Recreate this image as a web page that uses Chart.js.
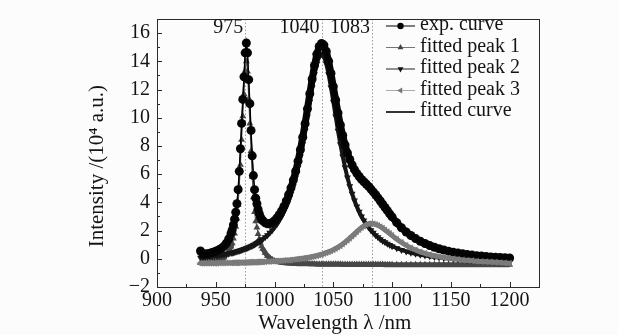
<!DOCTYPE html>
<html>
<head>
  <meta charset="utf-8">
  <title>Fitted emission spectrum</title>
  <script src="https://cdn.jsdelivr.net/npm/chart.js@4"></script>
  <style>
    body {
      margin: 0;
      background: #fcfcfc;
    }
    #wrap {
      width: 618px;
      height: 335px;
    }
  </style>
</head>
<body>
  <div id="wrap"><canvas id="spectrum" width="618" height="335"></canvas></div>

  <script>
    // wavelength grid (nm), denser around the 975 nm line
    const wavelength = [
      937, 939, 941, 943, 945, 947, 949, 951, 953, 955, 957, 959, 961, 963,
      964, 965, 966, 967, 968, 969, 970, 971, 972, 973, 974, 975, 976, 977, 978, 979,
      980, 981, 982, 983, 984, 985, 986, 987, 988, 989, 990,
      992, 994, 996, 998, 1000, 1002, 1004, 1006, 1008, 1010, 1012, 1014, 1016, 1018, 1020,
      1022, 1024, 1026, 1028, 1030, 1032, 1034, 1036, 1038, 1040, 1042, 1044, 1046, 1048, 1050,
      1052, 1054, 1056, 1058, 1060, 1062, 1064, 1066, 1068, 1070, 1072, 1074, 1076, 1078, 1080,
      1082, 1084, 1086, 1088, 1090, 1092, 1094, 1096, 1098, 1100,
      1104, 1108, 1112, 1116, 1120, 1124, 1128, 1132, 1136, 1140, 1144, 1148, 1152,
      1156, 1160, 1164, 1168, 1172, 1176, 1180, 1184, 1188, 1192, 1196, 1200
    ];

    // intensities in 10^4 a.u.
    const expCurve = [
      0.55, 0.36, 0.34, 0.36, 0.40, 0.45, 0.50, 0.57, 0.65, 0.75, 0.90, 1.10, 1.40, 1.80,
      2.05, 2.40, 2.80, 3.30, 3.90, 4.90, 6.20, 7.80, 9.60, 11.30, 12.90, 14.60, 15.30, 14.60, 12.70, 11.00,
      9.10, 7.30, 5.90, 4.90, 4.30, 3.90, 3.50, 3.20, 2.95, 2.80, 2.70,
      2.55, 2.48, 2.50, 2.58, 2.70, 2.90, 3.12, 3.40, 3.72, 4.10, 4.54, 5.03, 5.58, 6.21, 6.92,
      7.73, 8.62, 9.58, 10.63, 11.70, 12.75, 13.71, 14.50, 15.05, 15.26, 15.15, 14.70, 14.01, 13.15, 12.21,
      11.26, 10.34, 9.49, 8.74, 8.08, 7.51, 7.04, 6.65, 6.32, 6.06, 5.83, 5.63, 5.46, 5.30, 5.13,
      4.94, 4.74, 4.54, 4.32, 4.10, 3.87, 3.64, 3.41, 3.18, 2.97,
      2.56, 2.20, 1.90, 1.65, 1.43, 1.24, 1.08, 0.94, 0.82, 0.71, 0.62, 0.54, 0.47,
      0.41, 0.35, 0.30, 0.26, 0.22, 0.19, 0.16, 0.13, 0.11, 0.09, 0.07, 0.06
    ];

    const fittedPeak1 = [
      -0.30, -0.28, -0.27, -0.25, -0.23, -0.21, -0.18, -0.14, -0.09, -0.02, 0.09, 0.26, 0.52, 0.87,
      1.10, 1.43, 1.80, 2.28, 2.85, 3.83, 5.10, 6.67, 8.44, 10.11, 11.68, 13.34, 14.01, 13.27, 11.34, 9.60,
      7.65, 5.81, 4.37, 3.32, 2.67, 2.22, 1.76, 1.41, 1.10, 0.89, 0.72,
      0.43, 0.20, 0.05, -0.06, -0.15, -0.19, -0.23, -0.26, -0.28, -0.30, -0.31, -0.32, -0.33, -0.34, -0.35,
      -0.35, -0.36, -0.36, -0.36, -0.37, -0.37, -0.37, -0.38, -0.38, -0.38, -0.38, -0.38, -0.39, -0.39, -0.39,
      -0.39, -0.39, -0.39, -0.40, -0.40, -0.40, -0.40, -0.40, -0.40, -0.40, -0.40, -0.41, -0.41, -0.41, -0.41,
      -0.41, -0.41, -0.41, -0.41, -0.41, -0.41, -0.42, -0.42, -0.42, -0.42,
      -0.42, -0.42, -0.42, -0.42, -0.42, -0.42, -0.42, -0.42, -0.42, -0.42, -0.42, -0.42, -0.42,
      -0.42, -0.42, -0.42, -0.42, -0.42, -0.42, -0.42, -0.42, -0.42, -0.42, -0.42, -0.42
    ];

    const fittedPeak2 = [
      0.07, 0.08, 0.10, 0.12, 0.14, 0.17, 0.19, 0.22, 0.24, 0.27, 0.31, 0.34, 0.38, 0.41,
      0.43, 0.45, 0.48, 0.50, 0.52, 0.55, 0.57, 0.60, 0.63, 0.66, 0.69, 0.72, 0.75, 0.78, 0.82, 0.86,
      0.89, 0.93, 0.98, 1.02, 1.07, 1.12, 1.17, 1.22, 1.27, 1.33, 1.39,
      1.53, 1.67, 1.84, 2.02, 2.23, 2.45, 2.71, 3.00, 3.33, 3.71, 4.13, 4.61, 5.15, 5.77, 6.47,
      7.26, 8.12, 9.07, 10.09, 11.13, 12.15, 13.08, 13.83, 14.33, 14.50, 14.33, 13.83, 13.08, 12.15, 11.13,
      10.09, 9.07, 8.12, 7.26, 6.47, 5.77, 5.15, 4.61, 4.13, 3.71, 3.33, 3.00, 2.71, 2.45, 2.23,
      2.02, 1.84, 1.67, 1.53, 1.39, 1.27, 1.17, 1.07, 0.98, 0.89,
      0.75, 0.63, 0.52, 0.43, 0.36, 0.29, 0.23, 0.18, 0.13, 0.09, 0.06, 0.03, 0.00,
      -0.03, -0.05, -0.08, -0.10, -0.11, -0.13, -0.14, -0.16, -0.17, -0.18, -0.19, -0.20
    ];

    const fittedPeak3 = [
      -0.32, -0.32, -0.32, -0.32, -0.31, -0.31, -0.31, -0.31, -0.30, -0.30, -0.30, -0.29, -0.29, -0.29,
      -0.29, -0.28, -0.28, -0.28, -0.28, -0.28, -0.27, -0.27, -0.27, -0.27, -0.26, -0.26, -0.26, -0.26, -0.25, -0.25,
      -0.25, -0.25, -0.24, -0.24, -0.24, -0.23, -0.23, -0.23, -0.22, -0.22, -0.22,
      -0.21, -0.20, -0.19, -0.18, -0.17, -0.16, -0.15, -0.14, -0.12, -0.11, -0.10, -0.08, -0.06, -0.04, -0.02,
      0.00, 0.02, 0.05, 0.08, 0.11, 0.14, 0.18, 0.22, 0.27, 0.31, 0.37, 0.43, 0.49, 0.56, 0.64,
      0.73, 0.83, 0.93, 1.05, 1.18, 1.31, 1.46, 1.61, 1.76, 1.92, 2.07, 2.21, 2.33, 2.42, 2.48,
      2.50, 2.49, 2.44, 2.37, 2.28, 2.17, 2.05, 1.92, 1.79, 1.65,
      1.39, 1.16, 0.95, 0.77, 0.62, 0.49, 0.38, 0.29, 0.22, 0.15, 0.09, 0.04, 0.00,
      -0.04, -0.08, -0.11, -0.14, -0.17, -0.19, -0.21, -0.23, -0.25, -0.27, -0.29, -0.31
    ];

    // the fitted sum lies on the measured points
    const fittedCurve = expCurve;

    const xTicks = [900, 950, 1000, 1050, 1100, 1150, 1200];
    const xMinorTicks = [925, 975, 1025, 1075, 1125, 1175];
    const yTicks = [-2, 0, 2, 4, 6, 8, 10, 12, 14, 16];
    const yMinorTicks = [-1, 1, 3, 5, 7, 9, 11, 13, 15];

    const peakLines = [975, 1040, 1083];
    const peakLabels = ['975', '1040', '1083'];

    const legendLabels = ['exp. curve', 'fitted peak 1', 'fitted peak 2', 'fitted peak 3', 'fitted curve'];

    const SERIF = "'Liberation Serif', 'Times New Roman', serif";
    const INK = '#141414';

    // marker shapes for the hand-drawn legend (same geometry as chart.js)
    function marker(ctx, style, rot, r, x, y) {
      ctx.beginPath();
      if (style === 'circle') {
        ctx.arc(x, y, r, 0, Math.PI * 2);
      } else if (style === 'triangle') {
        let a = rot * Math.PI / 180;
        ctx.moveTo(x + Math.sin(a) * r, y - Math.cos(a) * r);
        for (let k = 0; k < 2; k++) {
          a += Math.PI * 2 / 3;
          ctx.lineTo(x + Math.sin(a) * r, y - Math.cos(a) * r);
        }
        ctx.closePath();
      }
      if (style) ctx.fill();
    }

    const legendStyle = [
      { line: '#000', mark: '#000', style: 'circle', rot: 0, r: 3.2, w: 1 },
      { line: '#777', mark: '#444', style: 'triangle', rot: 0, r: 3.4, w: 1 },
      { line: '#222', mark: '#111', style: 'triangle', rot: 180, r: 3.4, w: 1 },
      { line: '#aaa', mark: '#777', style: 'triangle', rot: 270, r: 3.4, w: 1 },
      { line: '#000', mark: null, style: null, rot: 0, r: 0, w: 1.6 }
    ];

    const decorations = {
      id: 'decorations',
      beforeDatasetsDraw(chart) {
        const { ctx, chartArea: a, scales: { x } } = chart;
        ctx.save();
        ctx.strokeStyle = '#9c9c9c';
        ctx.lineWidth = 1;
        ctx.setLineDash([1.5, 2]);
        peakLines.forEach(v => {
          const px = Math.round(x.getPixelForValue(v)) + 0.5;
          ctx.beginPath();
          ctx.moveTo(px, a.top);
          ctx.lineTo(px, a.bottom);
          ctx.stroke();
        });
        ctx.restore();
      },
      afterDraw(chart) {
        const { ctx, chartArea: a, scales: { x, y } } = chart;
        ctx.save();

        // frame and inward ticks
        ctx.strokeStyle = '#2a2a2a';
        ctx.lineWidth = 1;
        ctx.strokeRect(a.left + 0.5, a.top + 0.5, a.right - a.left, a.bottom - a.top);
        ctx.beginPath();
        xTicks.concat(xMinorTicks).forEach(v => {
          const px = Math.round(x.getPixelForValue(v)) + 0.5;
          const len = xTicks.includes(v) ? 5 : 3;
          ctx.moveTo(px, a.bottom);
          ctx.lineTo(px, a.bottom - len);
        });
        yTicks.concat(yMinorTicks).forEach(v => {
          const py = Math.round(y.getPixelForValue(v)) + 0.5;
          const len = yTicks.includes(v) ? 5 : 3;
          ctx.moveTo(a.left, py);
          ctx.lineTo(a.left + len, py);
        });
        ctx.stroke();

        // peak position labels
        ctx.fillStyle = INK;
        ctx.font = '20px ' + SERIF;
        ctx.textAlign = 'right';
        ctx.textBaseline = 'middle';
        peakLines.forEach((v, i) => {
          ctx.fillText(peakLabels[i], x.getPixelForValue(v) - 2, a.top + 9);
        });

        // legend in the upper right corner
        ctx.textAlign = 'left';
        legendLabels.forEach((label, i) => {
          const s = legendStyle[i];
          const ry = a.top + 6 + i * 21.5;
          ctx.strokeStyle = s.line;
          ctx.lineWidth = s.w;
          ctx.beginPath();
          ctx.moveTo(386, ry + 1);
          ctx.lineTo(415, ry + 1);
          ctx.stroke();
          if (s.style) {
            ctx.fillStyle = s.mark;
            marker(ctx, s.style, s.rot, s.r, 400.5, ry + 1);
          }
          ctx.fillStyle = INK;
          ctx.fillText(label, 420, ry);
        });
        ctx.restore();
      }
    };

    const points = ys => wavelength.map((w, i) => ({ x: w, y: ys[i] }));

    // the 975 nm line is sampled sparsely enough to show single markers;
    // everywhere else the markers run together into a solid band
    const nearLine = c => c.p0.parsed.x >= 964 && c.p1.parsed.x <= 990;

    new Chart(document.getElementById('spectrum'), {
      type: 'scatter',
      data: {
        datasets: [
          {
            label: 'fitted curve',
            data: points(fittedCurve),
            showLine: true,
            borderColor: '#000',
            borderWidth: 1.4,
            pointRadius: 0,
            order: 0
          },
          {
            label: 'fitted peak 3',
            data: points(fittedPeak3),
            showLine: true,
            borderColor: '#7b7b7b',
            backgroundColor: '#7b7b7b',
            borderWidth: 5,
            borderJoinStyle: 'round',
            borderCapStyle: 'round',
            pointStyle: 'triangle',
            pointRotation: 270,
            pointRadius: 4,
            pointBorderWidth: 0,
            order: 1
          },
          {
            label: 'exp. curve',
            data: points(expCurve),
            showLine: true,
            borderColor: '#050505',
            backgroundColor: '#050505',
            borderWidth: 7,
            borderJoinStyle: 'round',
            borderCapStyle: 'round',
            segment: { borderWidth: c => nearLine(c) ? 1 : 7 },
            pointStyle: 'circle',
            pointRadius: 4.5,
            pointBorderWidth: 0,
            order: 2
          },
          {
            label: 'fitted peak 2',
            data: points(fittedPeak2),
            showLine: true,
            borderColor: '#161616',
            backgroundColor: '#161616',
            borderWidth: 4,
            borderJoinStyle: 'round',
            pointStyle: 'triangle',
            pointRotation: 180,
            pointRadius: 4,
            pointBorderWidth: 0,
            order: 3
          },
          {
            label: 'fitted peak 1',
            data: points(fittedPeak1),
            showLine: true,
            borderColor: '#474747',
            backgroundColor: '#474747',
            borderWidth: 5,
            borderJoinStyle: 'round',
            segment: { borderWidth: c => nearLine(c) ? 1 : 5 },
            pointStyle: 'triangle',
            pointRotation: 0,
            pointRadius: 4,
            pointBorderWidth: 0,
            order: 4
          }
        ]
      },
      options: {
        responsive: false,
        animation: false,
        devicePixelRatio: 1,
        layout: { padding: { top: 13, right: 79, left: 0, bottom: 0 } },
        plugins: {
          legend: { display: false },
          tooltip: { enabled: false }
        },
        scales: {
          x: {
            type: 'linear',
            min: 900,
            max: 1225,
            afterBuildTicks: s => { s.ticks = xTicks.map(v => ({ value: v })); },
            afterFit: s => { s.height = 48; },
            grid: { display: false, drawTicks: false },
            border: { display: false },
            ticks: {
              color: INK,
              font: { family: SERIF, size: 20 },
              padding: 2,
              maxRotation: 0,
              autoSkip: false,
              callback: v => String(v)
            },
            title: {
              display: true,
              text: 'Wavelength λ /nm\u00a0\u00a0\u00a0\u00a0\u00a0',
              color: INK,
              font: { family: SERIF, size: 21, lineHeight: 1 },
              padding: { top: 0, bottom: 1 }
            }
          },
          y: {
            min: -2,
            max: 17,
            afterBuildTicks: s => { s.ticks = yTicks.map(v => ({ value: v })); },
            afterFit: s => { s.width = 157; },
            grid: { display: false, drawTicks: false },
            border: { display: false },
            ticks: {
              color: INK,
              font: { family: SERIF, size: 20 },
              padding: 7,
              callback: v => String(v).replace('-', '\u2212')
            },
            title: {
              display: true,
              text: 'Intensity /(10⁴ a.u.)\u00a0\u00a0\u00a0\u00a0\u00a0',
              color: INK,
              font: { family: SERIF, size: 21, lineHeight: 1.2 },
              padding: { top: 85, bottom: 0 }
            }
          }
        }
      },
      plugins: [decorations]
    });
  </script>
</body>
</html>
